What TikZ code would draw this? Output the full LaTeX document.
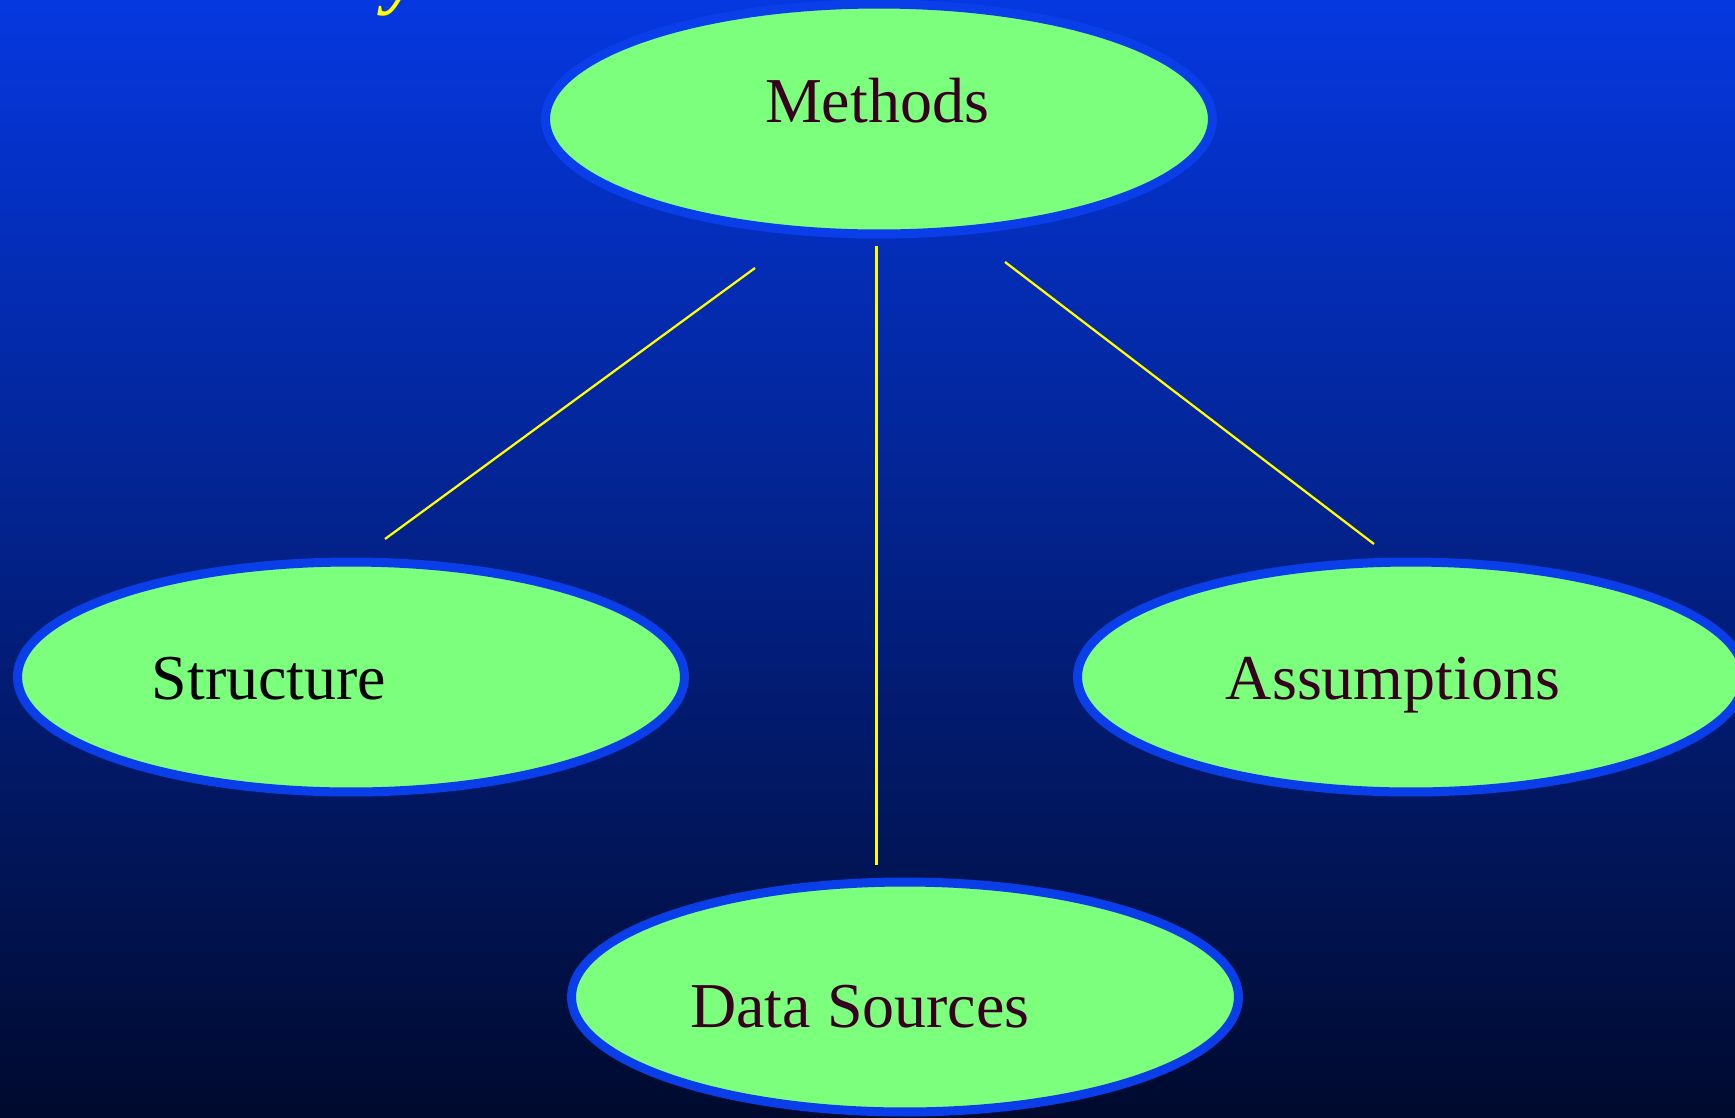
\documentclass[tikz,border=0pt]{standalone}
\usepackage{fontspec}
\setmainfont{Liberation Serif}
\usetikzlibrary{shapes.geometric}
\definecolor{bgtop}{RGB}{5,56,224}
\definecolor{bgmid}{RGB}{3,38,150}
\definecolor{bgbot}{RGB}{0,10,46}
\definecolor{ovalfill}{RGB}{124,255,124}
\definecolor{ovalline}{RGB}{10,62,232}
\definecolor{labeltext}{RGB}{55,0,30}
\definecolor{linkyellow}{RGB}{255,255,0}
\begin{document}
\begin{tikzpicture}[x=0.02cm,y=-0.02cm,
  oval/.style={ellipse, draw=ovalline, fill=ovalfill, line width=0.18cm,
    minimum width=13.34cm, minimum height=4.6cm, inner sep=0pt},
  ovaltext/.style={anchor=base, inner sep=0pt, text=labeltext,
    font=\fontsize{36.4}{40}\selectfont},
  link/.style={draw=linkyellow, line width=0.045cm}]
\useasboundingbox (0,0) rectangle (1735,1117);
\clip (0,0) rectangle (1735,1117);
\shade[top color=bgtop, middle color=bgmid, bottom color=bgbot] (0,0) rectangle (1735,1117);
% cut-off title glyph
\node[anchor=base west, inner sep=0pt, text=linkyellow,
  font=\fontsize{44}{48}\bfseries\itshape\selectfont] (title) at (385,-1) {y};
% ovals
\node[oval] (methods) at (879,119) {};
\node[oval] (structure) at (351,677) {};
\node[oval] (assumptions) at (1411,677) {};
\node[oval] (datasources) at (905,997) {};
% labels
\node[ovaltext] (methodsT) at (877,122) {Methods};
\node[ovaltext, text=black] (structureT) at (269,699) {Structure};
\node[ovaltext] (assumptionsT) at (1393,699) {Assumptions};
\node[ovaltext] (datasourcesT) at (860,1027) {Data Sources};
% connector ends
\coordinate (mL) at (755,268);
\coordinate (mC) at (876.5,246);
\coordinate (mR) at (1005,262);
\coordinate (sE) at (385,539);
\coordinate (dE) at (876.5,865);
\coordinate (aE) at (1374,544);
\draw[link] (mL) -- (sE);
\draw[link] (mC) -- (dE);
\draw[link] (mR) -- (aE);
\end{tikzpicture}
\end{document}
